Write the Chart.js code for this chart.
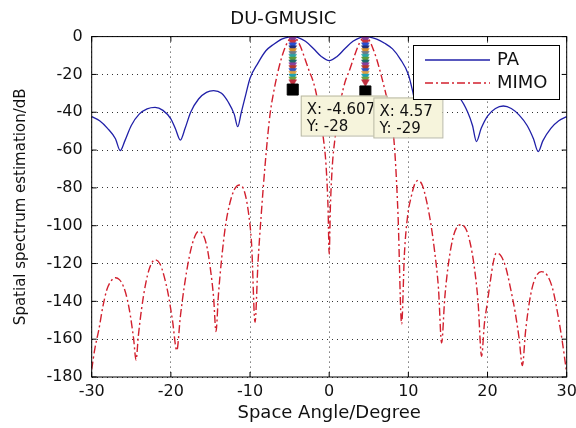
<!DOCTYPE html>
<html>
<head>
<meta charset="utf-8">
<script src="https://cdn.jsdelivr.net/npm/chart.js@4.4.1/dist/chart.umd.min.js"></script>
<style>
  html, body { margin: 0; padding: 0; background: #fff; }
  #wrap { width: 576px; height: 428px; }
</style>
</head>
<body>
<div id="wrap"><canvas id="chart" width="576" height="428"></canvas></div>
<script>
/* ---------- Data ---------- */
const paAngle = [-30, -29, -28, -27, -26.4, -25.8, -25, -24, -23, -22, -21, -20, -19.4, -18.8, -18.2, -17.5, -16.5, -15.5, -14.6, -13.6, -12.7, -12, -11.55, -11.1, -10.5, -10, -9, -8, -7, -6, -5, -4.6, -4, -3, -2, -1, 0,
  1, 2, 3, 4, 4.6, 5, 6, 7, 8, 9, 10, 10.6, 11.1, 11.55, 12, 12.7, 13.6, 14.6, 15.5, 16.5, 17.5, 18.1, 18.6, 19.2, 20, 21, 22, 23, 24, 25, 25.8, 26.4, 27, 28, 29, 30];
const paDb = [-42.3, -44.5, -48.5, -54, -60.3, -55, -47, -41, -38.2, -37.4, -39, -43.5, -49, -54.7, -48.5, -40, -33, -29.5, -28.6, -30, -35, -41, -47.6, -40, -30, -22, -14, -7.5, -4, -1.3, -0.1, 0, -0.4, -2.5, -6.3, -10.5, -12.7,
  -10.5, -6.3, -2.5, -0.4, 0, -0.1, -1.3, -3.5, -6.5, -12, -20, -30, -40, -47.6, -41, -35, -30, -28.6, -29.5, -32.5, -40, -47, -55.5, -48.5, -42, -38, -36.7, -38, -41.5, -47, -54, -60.8, -55, -48.5, -44.5, -42.3];

const mimoAngle = [-30, -29.6, -29.1, -28.6, -28.1, -27.6, -27, -26.5, -26, -25.5, -25.1, -24.7, -24.4, -24.1, -23.7, -23.2, -22.7, -22, -21.4, -20.9, -20.3, -19.8, -19.25,
  -18.8, -18.3, -17.7, -17.1, -16.5, -15.9, -15.4, -15, -14.6, -14.3, -14, -13.6, -13.1, -12.6, -12, -11.3, -10.7, -10.2, -9.8, -9.37,
  -9, -8.6, -8.1, -7.5, -7, -6.5, -6, -5.5, -5, -4.6, -4.1, -3.6, -3, -2.5, -2, -1.5, -1.1, -0.7, -0.4, -0.15, 0,
  0.15, 0.4, 0.7, 1.1, 1.5, 2, 2.5, 3, 3.6, 4.1, 4.57, 5, 5.5, 6, 6.6, 7.2, 7.9, 8.3, 8.7, 9.15,
  9.5, 9.9, 10.4, 10.8, 11.25, 11.8, 12.3, 12.8, 13.3, 13.8, 14.2, 14.6, 15.1, 15.6, 16.1, 16.7, 17.3, 17.8, 18.3, 18.8, 19.25,
  19.6, 20, 20.4, 20.7, 21.1, 21.7, 22.3, 22.9, 23.5, 24, 24.4, 24.8, 25.3, 25.9, 26.8, 27.5, 28.2, 28.8, 29.4, 30];
const mimoDb = [-176, -165, -155, -143, -134, -129.5, -127.5, -128.5, -132, -139, -148, -160, -171, -158, -144, -131, -122.5, -118, -120, -126, -137, -150, -166,
  -148, -132, -117, -107, -103, -105, -112, -123, -138, -156, -137, -118, -100, -89, -81, -78.5, -82, -93, -110, -151,
  -120, -95, -68, -42, -29, -19, -11, -5, -1.2, 0, -1.5, -5.5, -12.5, -18.5, -24, -33, -44, -55, -68, -90, -115,
  -90, -68, -55, -44, -33, -24, -18.5, -12.5, -5.5, -1.5, 0, -1.5, -6, -12, -21, -31, -44, -61.5, -95, -152,
  -115, -95, -84, -78, -76, -79, -87, -98, -113, -133, -162, -138, -119, -107, -101, -99.5, -102, -109, -121, -140, -169,
  -152, -140, -128, -120, -114.5, -116, -122, -133, -146, -160, -174, -156, -140, -129, -124.3, -126, -133, -145, -160, -178];

// data tips placed on the two estimated sources
const tipAngle = [-4.607, 4.57];
const tipDb = [-28, -29];

// column of coloured markers stacked above each source
const stackDb = [0, -1.5, -3, -4.5, -6, -7.5, -9, -10.5, -12, -13.5, -15, -16.5, -18, -19.5, -21, -22.5, -24];
const stackColors = ['#a8202e', '#7b3fa0', '#c8343c', '#2a4fd0', '#23307a', '#d9902a', '#6d7a8a', '#2aa5a5',
  '#5e9a3a', '#1f6a6a', '#8a3f9a', '#b8382a', '#3050c0', '#e0a040', '#20a0b0', '#70a040', '#c03040'];

const xTicks = [-30, -20, -10, 0, 10, 20, 30];
const yTicks = [0, -20, -40, -60, -80, -100, -120, -140, -160, -180];

const FONT = 'DejaVu Sans';
const PA_COLOR = '#2020a8';
const MIMO_COLOR = '#d2202e';

const toXY = (xs, ys) => xs.map((x, i) => ({ x, y: ys[i] }));

const stackPoints = [];
const stackPointColors = [];
tipAngle.forEach(a => {
  stackDb.forEach((d, i) => {
    stackPoints.push({ x: a, y: d });
    stackPointColors.push(stackColors[i]);
  });
});

/* ---------- Frame, inward ticks, legend, data tips ---------- */
const matlabDecor = {
  id: 'matlabDecor',
  afterDatasetsDraw(chart) {
    const { ctx, chartArea: a, scales: { x, y } } = chart;
    ctx.save();
    ctx.strokeStyle = '#000';
    ctx.lineWidth = 1;
    ctx.setLineDash([]);
    ctx.strokeRect(a.left, a.top, a.right - a.left, a.bottom - a.top);
    ctx.beginPath();
    xTicks.forEach(t => {
      const px = x.getPixelForValue(t);
      ctx.moveTo(px, a.bottom); ctx.lineTo(px, a.bottom - 5);
      ctx.moveTo(px, a.top); ctx.lineTo(px, a.top + 5);
    });
    yTicks.forEach(t => {
      const py = y.getPixelForValue(t);
      ctx.moveTo(a.left, py); ctx.lineTo(a.left + 5, py);
      ctx.moveTo(a.right, py); ctx.lineTo(a.right - 5, py);
    });
    ctx.stroke();
    ctx.restore();
  },
  afterDraw(chart) {
    const { ctx, scales: { x, y } } = chart;
    ctx.save();

    // data tips
    const boxW = [86, 69];
    tipAngle.forEach((a, i) => {
      const px = x.getPixelForValue(a);
      const py = y.getPixelForValue(tipDb[i]);
      const left = px + 8, top = py + 6;
      ctx.fillStyle = '#f6f4dc';
      ctx.fillRect(left, top, boxW[i], 40);
      ctx.strokeStyle = '#b8b8a4';
      ctx.lineWidth = 1;
      ctx.strokeRect(left + 0.5, top + 0.5, boxW[i], 40);
      ctx.fillStyle = '#111';
      ctx.font = `15px "${FONT}"`;
      ctx.textBaseline = 'middle';
      ctx.textAlign = 'left';
      ctx.fillText(`X: ${a}`, left + 6, top + 15);
      ctx.fillText(`Y: ${tipDb[i]}`, left + 6, top + 32);
    });

    // legend
    const lx = 413, ly = 45, lw = 146, lh = 54;
    ctx.fillStyle = '#fff';
    ctx.fillRect(lx, ly, lw, lh);
    ctx.strokeStyle = '#000';
    ctx.lineWidth = 1;
    ctx.strokeRect(lx + 0.5, ly + 0.5, lw, lh);
    ctx.lineWidth = 1.3;
    ctx.strokeStyle = PA_COLOR;
    ctx.beginPath(); ctx.moveTo(425, 60); ctx.lineTo(490, 60); ctx.stroke();
    ctx.strokeStyle = MIMO_COLOR;
    ctx.setLineDash([8, 3, 2, 3]);
    ctx.beginPath(); ctx.moveTo(425, 83); ctx.lineTo(490, 83); ctx.stroke();
    ctx.setLineDash([]);
    ctx.fillStyle = '#111';
    ctx.font = `18px "${FONT}"`;
    ctx.textBaseline = 'middle';
    ctx.fillText('PA', 497, 60);
    ctx.fillText('MIMO', 497, 83);
    ctx.restore();
  }
};

/* ---------- Chart ---------- */
new Chart(document.getElementById('chart'), {
  type: 'scatter',
  data: {
    datasets: [
      {
        label: 'tips',
        data: toXY(tipAngle, tipDb),
        pointStyle: 'rect',
        pointRadius: 7.8,
        pointBackgroundColor: '#000',
        pointBorderColor: '#000',
        showLine: false
      },
      {
        label: 'stack',
        data: stackPoints,
        pointStyle: 'triangle',
        rotation: 180,
        pointRadius: 4.5,
        pointBackgroundColor: stackPointColors,
        pointBorderColor: stackPointColors,
        pointBorderWidth: 0.5,
        showLine: false
      },
      {
        label: 'MIMO',
        data: toXY(mimoAngle, mimoDb),
        showLine: true,
        borderColor: MIMO_COLOR,
        borderWidth: 1.4,
        borderDash: [8, 3, 2, 3],
        pointRadius: 0,
        cubicInterpolationMode: 'monotone'
      },
      {
        label: 'PA',
        data: toXY(paAngle, paDb),
        showLine: true,
        borderColor: PA_COLOR,
        borderWidth: 1.3,
        pointRadius: 0,
        cubicInterpolationMode: 'monotone'
      }
    ]
  },
  options: {
    responsive: false,
    animation: false,
    layout: { padding: { left: 0, right: 9.3, top: 0, bottom: 0 } },
    plugins: {
      legend: { display: false },
      tooltip: { enabled: false },
      title: {
        display: true,
        text: 'DU-GMUSIC',
        color: '#111',
        font: { family: FONT, size: 18, weight: 'normal' },
        padding: { top: 9, bottom: 6 }
      }
    },
    scales: {
      x: {
        type: 'linear',
        min: -30,
        max: 30,
        afterBuildTicks: (s) => { s.ticks = xTicks.map(v => ({ value: v })); },
        afterFit: (s) => { s.height = 51; s.paddingLeft = 0; s.paddingRight = 0; },
        ticks: { color: '#111', font: { family: FONT, size: 16 }, padding: 5 },
        grid: { color: '#333', lineWidth: 1, drawTicks: false },
        border: { display: false, dash: [1, 4] },
        title: {
          display: true,
          text: 'Space Angle/Degree',
          color: '#111',
          font: { family: FONT, size: 18 },
          padding: { top: 0, bottom: 4 }
        }
      },
      y: {
        type: 'linear',
        min: -180,
        max: 0,
        afterBuildTicks: (s) => { s.ticks = yTicks.map(v => ({ value: v })); },
        afterFit: (s) => { s.width = 91.7; s.paddingTop = 0; s.paddingBottom = 0; },
        ticks: { color: '#111', font: { family: FONT, size: 16 }, padding: 9 },
        grid: { color: '#333', lineWidth: 1, drawTicks: false },
        border: { display: false, dash: [1, 4] },
        title: {
          display: true,
          text: 'Spatial spectrum estimation/dB',
          color: '#111',
          font: { family: FONT, size: 15 },
          padding: { top: 12, bottom: 0 }
        }
      }
    }
  },
  plugins: [matlabDecor]
});
</script>
</body>
</html>
